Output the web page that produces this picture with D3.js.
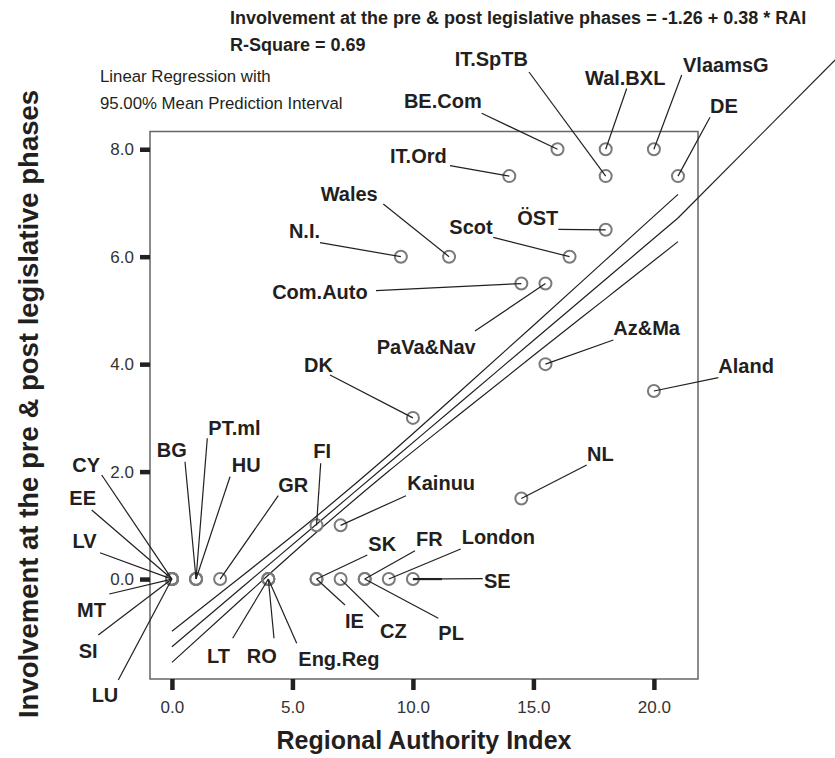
<!DOCTYPE html>
<html><head><meta charset="utf-8">
<script src="https://cdn.jsdelivr.net/npm/d3@7"></script>
<style>body{margin:0;background:#fff}svg{display:block}</style>
</head><body><svg id="c" width="835" height="758"></svg>
<script>
// ---- data ----
const names = ["CY","EE","LV","MT","SI","LU","BG","PT.ml","HU","GR","LT","RO","Eng.Reg",
  "SK","IE","CZ","FR","PL","London","SE","FI","Kainuu","DK","NL","Az&Ma","Aland",
  "Com.Auto","PaVa&Nav","N.I.","Wales","Scot","ÖST","IT.Ord","IT.SpTB","DE","BE.Com","Wal.BXL","VlaamsG"];
const rai = [0,0,0,0,0,0,1,1,1,2,4,4,4,
  6,6,7,8,8,9,10,6,7,10,14.5,15.5,20,
  14.5,15.5,9.5,11.5,16.5,18,14,18,21,16,18,20];
const involvement = [0,0,0,0,0,0,0,0,0,0,0,0,0,
  0,0,0,0,0,0,0,1,1,3,1.5,4,3.5,
  5.5,5.5,6,6,6,6.5,7.5,7.5,7.5,8,8,8];
const xTicks = [0,5,10,15,20];
const yTicks = [0,2,4,6,8];
// fit line and 95% mean prediction interval
const fitX = [0,3,6,9,12,15,18,21];
const fitY = [-1.26,-0.12,1.02,2.16,3.30,4.44,5.58,6.72];
const bandUpper = [-0.97,0.09,1.17,2.31,3.51,4.72,5.94,7.16];
const bandLower = [-1.55,-0.33,0.87,2.01,3.09,4.16,5.22,6.28];
const titleText = "Involvement at the pre & post legislative phases = -1.26 + 0.38 * RAI";
const rsqText = "R-Square = 0.69";
const legendLines = ["Linear Regression with","95.00% Mean Prediction Interval"];
const xTitle = "Regional Authority Index";
const yTitle = "Involvement at the pre & post legislative phases";

// ---- label layout (annotation placement, pixels): anchor, textX, baseline, leaderX, leaderY ----
const labelLayout = {
  "IT.SpTB":["end",528,66,529,72], "Wal.BXL":["start",585,85,626.7,88.5],
  "VlaamsG":["start",683,72,681.7,75], "BE.Com":["end",481.7,108,481.7,113.3],
  "DE":["start",710,113,710,117.3], "IT.Ord":["end",446.7,162.7,450,165.7],
  "Wales":["end",377.7,200.7,383.3,204], "N.I.":["end",320,238.3,320,242.7],
  "Scot":["end",492.7,234,493.3,237.3], "ÖST":["end",558.3,225,558.3,229.3],
  "Com.Auto":["end",367.7,299.3,376,290.7], "PaVa&Nav":["end",475.7,354,475,331],
  "Az&Ma":["start",613.3,335,613.3,340], "DK":["end",333,372,330,375],
  "Aland":["start",718.3,373.3,718.3,377.7], "NL":["start",587,460.7,586.7,465],
  "PT.ml":["start",208.3,435,207.3,438.3], "BG":["end",186.7,456.7,185,461.7],
  "HU":["start",231.7,471.7,230,476.7], "CY":["end",100,471.7,101.7,475],
  "FI":["start",313.3,458.3,320.7,463.3], "GR":["start",278.3,491.7,278.3,495.7],
  "EE":["end",96,505,91.7,510], "Kainuu":["start",407.3,490,406,495.7],
  "LV":["end",96.7,548.3,100,552.7], "SK":["start",368.3,550.7,367.3,555],
  "FR":["start",416,545.7,415,550.7], "London":["start",461.7,544,460.7,549],
  "SE":["start",484,587.7,482.7,578.7], "MT":["end",106,616.7,109.3,594],
  "IE":["start",345,628.3,345,605], "CZ":["start",380,638.3,379,616.7],
  "PL":["start",438.3,640,438.3,618.3], "SI":["end",97.7,658.3,98.3,635],
  "LT":["end",230,662.7,232.7,638.3], "RO":["start",246.7,662.7,274,638.3],
  "Eng.Reg":["start",298.3,666,296.7,643.3], "LU":["end",118.3,701.7,118.3,680]
};

// ---- drawing ----
const svg = d3.select("#c");
const ink = "#231f20";
const FONT = "Liberation Sans, Arial, sans-serif";
const x = d3.scaleLinear().domain([-0.91, 21.83]).range([150, 698]);
const y = d3.scaleLinear().domain([-1.86, 8.33]).range([679, 131.5]);

// titles
svg.append("text").attr("x",230).attr("y",24).attr("font-family",FONT)
  .attr("font-weight","bold").attr("font-size",18).attr("fill",ink).text(titleText);
svg.append("text").attr("x",230).attr("y",51).attr("font-family",FONT)
  .attr("font-weight","bold").attr("font-size",18).attr("fill",ink).text(rsqText);
legendLines.forEach((t,i)=>{
  svg.append("text").attr("x",100).attr("y",82+i*27).attr("font-family",FONT)
    .attr("font-size",16.8).attr("fill",ink).text(t);
});

// frame
svg.append("rect").attr("x",150).attr("y",131.5).attr("width",548).attr("height",547.5)
  .attr("fill","none").attr("stroke","#666").attr("stroke-width",1.5);

// axes
const xAxis = svg.append("g").attr("transform","translate(0,679)")
  .call(d3.axisBottom(x).tickValues(xTicks).tickSize(11).tickPadding(11).tickFormat(d3.format(".1f")));
const yAxis = svg.append("g").attr("transform","translate(150,0)")
  .call(d3.axisLeft(y).tickValues(yTicks).tickSize(10).tickPadding(6).tickFormat(d3.format(".1f")));
[xAxis,yAxis].forEach(g=>{
  g.select(".domain").remove();
  g.selectAll(".tick line").attr("stroke",ink).attr("stroke-width",4.5);
  g.selectAll(".tick text").attr("font-family",FONT)
    .attr("font-size",17).attr("fill","#333");
});

// axis titles
svg.append("text").attr("x",424).attr("y",749).attr("text-anchor","middle")
  .attr("font-family",FONT).attr("font-weight","bold")
  .attr("font-size",25).attr("fill",ink).text(xTitle);
svg.append("text").attr("transform","translate(38,404) rotate(-90)").attr("text-anchor","middle")
  .attr("font-family",FONT).attr("font-weight","bold")
  .attr("font-size",27.5).attr("fill",ink).text(yTitle);

// fit + bands
const line = d3.line().x(d=>x(d[0])).y(d=>y(d[1])).curve(d3.curveMonotoneX);
[fitY, bandUpper, bandLower].forEach(arr=>{
  svg.append("path").attr("d", line(fitX.map((v,i)=>[v,arr[i]])))
    .attr("fill","none").attr("stroke",ink).attr("stroke-width",1.2);
});
// fit-line label leader running off the top-right
const fx = x(fitX[fitX.length-1]), fy = y(fitY[fitY.length-1]);
svg.append("line").attr("x1",fx).attr("y1",fy).attr("x2",fx+175).attr("y2",fy-176)
  .attr("stroke",ink).attr("stroke-width",1.2);

// points
const pts = names.map((n,i)=>({name:n, rx:rai[i], iv:involvement[i]}));
svg.append("g").selectAll("circle").data(pts).join("circle")
  .attr("cx",d=>x(d.rx)).attr("cy",d=>y(d.iv)).attr("r",6)
  .attr("fill","none").attr("stroke","#7a7a7a").attr("stroke-width",2);

// leaders
svg.append("g").selectAll("line").data(pts).join("line")
  .attr("x1",d=>labelLayout[d.name][3]).attr("y1",d=>labelLayout[d.name][4])
  .attr("x2",d=>x(d.rx)).attr("y2",d=>y(d.iv))
  .attr("stroke",ink).attr("stroke-width",1.2);
// SE leader drawn heavier near its point
const se = pts.find(d=>d.name==="SE");
svg.append("line").attr("x1",x(se.rx)).attr("y1",y(se.iv)).attr("x2",x(se.rx)+29).attr("y2",y(se.iv))
  .attr("stroke",ink).attr("stroke-width",2.2);

// labels
svg.append("g").selectAll("text").data(pts).join("text")
  .attr("x",d=>labelLayout[d.name][1]).attr("y",d=>labelLayout[d.name][2])
  .attr("text-anchor",d=>labelLayout[d.name][0])
  .attr("font-family",FONT).attr("font-weight","bold")
  .attr("font-size",20).attr("fill",ink).text(d=>d.name);
</script></body></html>
